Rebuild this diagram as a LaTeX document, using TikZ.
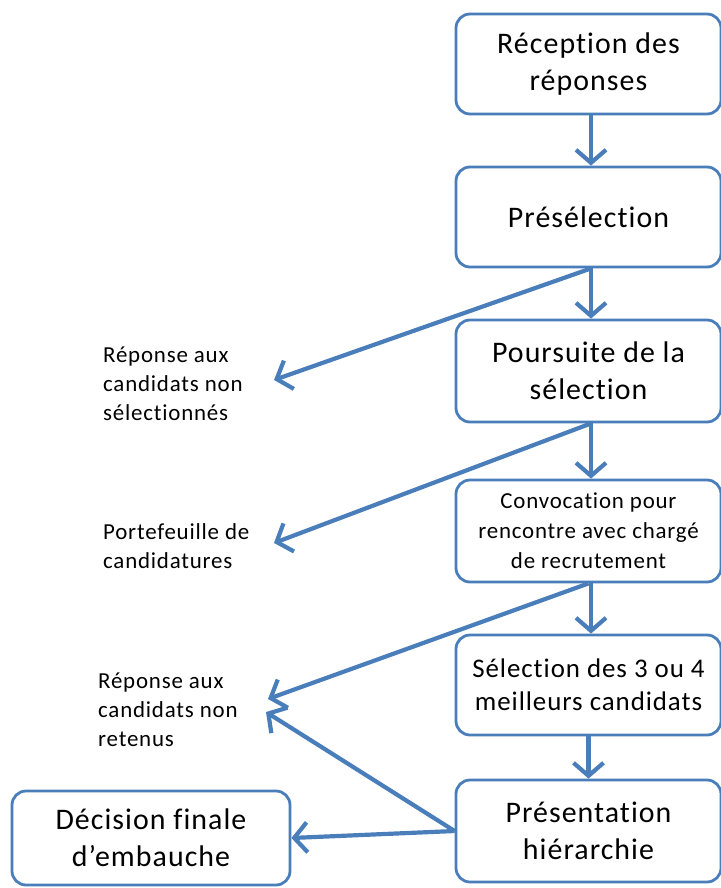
\documentclass[tikz,border=0pt]{standalone}
\usepackage{fontspec}
\setmainfont{Carlito}[Ligatures={NoCommon}, LetterSpace=3.5]
\usetikzlibrary{arrows.meta}
\definecolor{flowblue}{HTML}{4A7EBB}
\tikzset{
  stepbox/.style={draw=flowblue, line width=2.8bp, rounded corners=14bp, fill=white,
    minimum width=265bp, align=center, font=\fontsize{30}{37}\selectfont, inner sep=0pt},
  sidelabel/.style={anchor=west, align=left, inner sep=0pt, font=\fontsize{23}{29}\selectfont},
  flow/.style={draw=flowblue, line width=4.2bp, -{Straight Barb[length=13bp, width=30bp, line width=4.2bp]}},
}
\begin{document}
\begin{tikzpicture}[x=1bp,y=-1bp]
\useasboundingbox (0,0) rectangle (721,888);
\node[stepbox, minimum height=100bp] (b1) at (588.5,64) {Réception des\\réponses};
\node[stepbox, minimum height=100bp] (b2) at (588.5,217) {Présélection};
\node[stepbox, minimum height=102bp] (b3) at (588.5,371) {Poursuite de la\\sélection};
\node[stepbox, minimum height=102bp, font=\fontsize{23}{30}\selectfont] (b4) at (588.5,531) {Convocation pour\\rencontre avec chargé\\de recrutement};
\node[stepbox, minimum height=100bp, font=\fontsize{27}{33}\selectfont] (b5) at (588.5,685) {Sélection des 3 ou 4\\meilleurs candidats};
\node[stepbox, minimum height=102bp] (b6) at (588.5,831) {Présentation\\hiérarchie};
\node[stepbox, minimum width=278bp, minimum height=94bp] (d) at (151,838) {Décision finale\\d’embauche};

\node[sidelabel] (l1) at (103,384) {Réponse aux\\candidats non\\sélectionnés};
\node[sidelabel] (l2) at (103,546) {Portefeuille de\\candidatures};
\node[sidelabel] (l3) at (98,710) {Réponse aux\\candidats non\\retenus};

\coordinate (t1) at (274,380);
\coordinate (t2) at (274,543);
\coordinate (t3) at (268,699);
\coordinate (t4) at (266,712);

\draw[flow] ([xshift=2.5bp]b1.south) -- ([xshift=2.5bp]b2.north);
\draw[flow] ([xshift=2.5bp]b2.south) -- ([xshift=2.5bp]b3.north);
\draw[flow] ([xshift=2.5bp]b3.south) -- ([xshift=2.5bp]b4.north);
\draw[flow] ([xshift=2.5bp]b4.south) -- ([xshift=2.5bp]b5.north);
\draw[flow] ([xshift=0bp]b5.south) -- ([xshift=0bp]b6.north);
\draw[flow] ([xshift=2.5bp]b2.south) -- (t1);
\draw[flow] ([xshift=2.5bp]b3.south) -- (t2);
\draw[flow] ([xshift=0bp]b4.south) -- (t3);
\draw[flow] (b6.west) -- (t4);
\draw[flow] (b6.west) -- (d.east);
\end{tikzpicture}
\end{document}
